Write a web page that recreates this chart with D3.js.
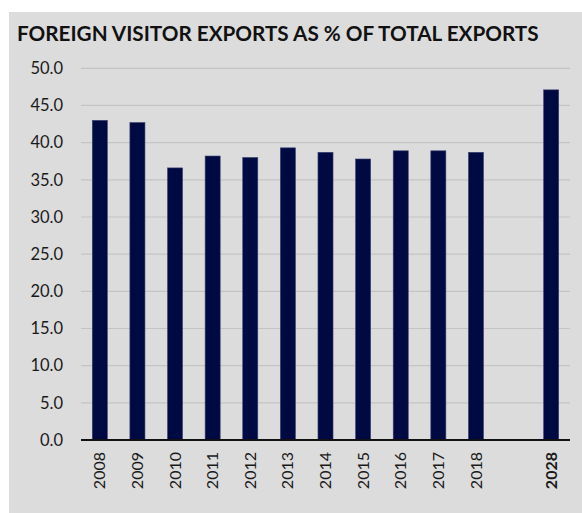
<!DOCTYPE html>
<html><head><meta charset="utf-8">
<script src="https://cdn.jsdelivr.net/npm/d3@7"></script>
<style>html,body{margin:0;padding:0;background:#fff;}svg{display:block;}</style>
</head><body>
<script>
const title = "FOREIGN VISITOR EXPORTS AS % OF TOTAL EXPORTS";
const categories = ["2008","2009","2010","2011","2012","2013","2014","2015","2016","2017","2018","","2028"];
const values = [43.0, 42.7, 36.6, 38.2, 38.0, 39.3, 38.7, 37.8, 38.9, 38.9, 38.7, null, 47.1];
const yTicks = [0,5,10,15,20,25,30,35,40,45,50];
const boldCategories = ["2028"];

const W = 582, H = 513;
const svg = d3.select("body").append("svg").attr("width", W).attr("height", H);
svg.append("rect").attr("x", 9).attr("y", 12).attr("width", W - 9).attr("height", H - 12).attr("fill", "#dcdcdc");

const font = "Lato, 'Open Sans', sans-serif";
const t = svg.append("text").attr("x", 17).attr("y", 41).attr("font-family", font)
  .attr("font-weight", 700).attr("font-size", 20).attr("fill", "#111").text(title);
const tw = t.node().getComputedTextLength();
t.attr("font-size", 20 * 522 / tw);

const x = d3.scaleBand().domain(categories.map((c, i) => i)).range([81, 570]).paddingInner(0.6).paddingOuter(0.3);
const y = d3.scaleLinear().domain([0, 50]).range([440, 68.3]);

const g = svg.append("g");
g.selectAll("line.grid").data(yTicks.filter(d => d > 0)).enter().append("line")
  .attr("x1", 81).attr("x2", 570).attr("y1", d => y(d)).attr("y2", d => y(d))
  .attr("stroke", "#c4c4c4").attr("stroke-width", 1.2);

const yAxis = d3.axisLeft(y).tickValues(yTicks).tickFormat(d3.format(".1f")).tickSize(0).tickPadding(18);
const ya = svg.append("g").attr("transform", "translate(81,0)").call(yAxis);
ya.select(".domain").remove();
ya.selectAll("text").attr("font-family", font).attr("font-size", 16.5).attr("fill", "#1a1a1a");

g.selectAll("rect.bar").data(values.map((v, i) => ({v, i})).filter(d => d.v != null)).enter().append("rect")
  .attr("x", d => x(d.i)).attr("width", x.bandwidth())
  .attr("y", d => y(d.v)).attr("height", d => y(0) - y(d.v))
  .attr("fill", "#000a42").attr("stroke", "#3a4270").attr("stroke-width", 0.6);

const xAxis = d3.axisBottom(x).tickFormat(i => categories[i]).tickSize(0).tickPadding(0);
const xa = svg.append("g").attr("transform", "translate(0,440)").call(xAxis);
xa.select(".domain").remove();
xa.selectAll(".tick").filter(i => categories[i] === "").remove();
xa.selectAll("text").attr("font-family", font).attr("font-size", 16).attr("fill", "#1a1a1a")
  .attr("font-weight", i => boldCategories.includes(categories[i]) ? 700 : 400)
  .attr("text-anchor", "end").attr("dy", "0.35em")
  .attr("transform", "translate(0,12) rotate(-90)").attr("x", 0).attr("y", 0);

svg.append("line").attr("x1", 81).attr("x2", 570).attr("y1", 440).attr("y2", 440)
  .attr("stroke", "#111").attr("stroke-width", 2);
</script>
</body></html>
